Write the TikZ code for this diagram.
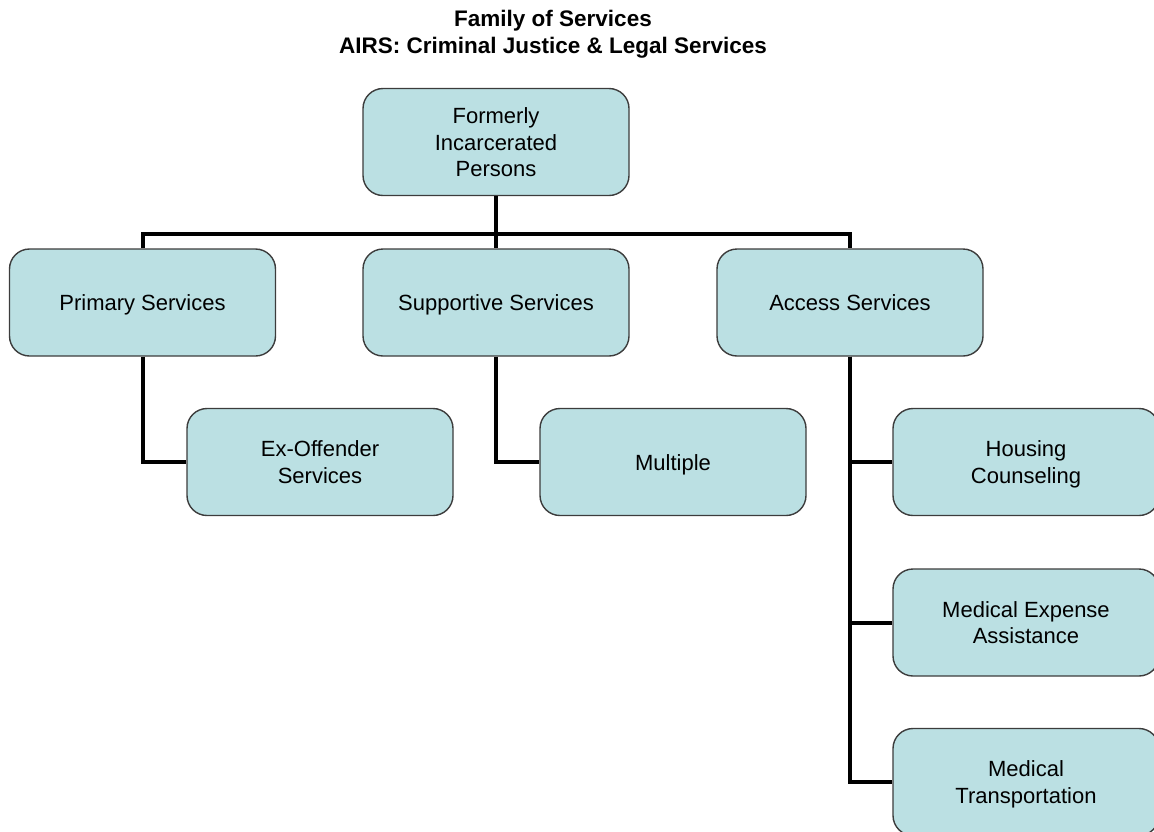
\documentclass[tikz,border=0pt]{standalone}
\usepackage{fontspec}
\setmainfont{Liberation Sans}
\definecolor{boxfill}{RGB}{187,224,227}
\definecolor{boxline}{RGB}{60,60,60}
\newcommand\bxt[1]{\vbox{\kern5.5pt\hbox{\begin{tabular}{@{}c@{}}#1\end{tabular}}}}
\begin{document}
\begin{tikzpicture}[x=1pt,y=-1pt,
  svc/.style={draw=boxline, line width=1.4pt, fill=boxfill, rounded corners=20pt,
    minimum width=266pt, minimum height=107pt, inner sep=2pt,
    font=\fontsize{22}{26.5}\selectfont},
  conn/.style={line width=4pt, black},
  ttl/.style={font=\bfseries\fontsize{22.5}{27}\selectfont, align=center}]
\useasboundingbox (0,0) rectangle (1154,831);
\node[ttl] (title) at (553,34) {Family of Services\\AIRS: Criminal Justice \& Legal Services};
\node[svc] (top) at (496,142) {\bxt{Formerly\\Incarcerated\\Persons}};
\node[svc] (prim) at (142.5,302.5) {\bxt{Primary Services}};
\node[svc] (sup) at (496,302.5) {\bxt{Supportive Services}};
\node[svc] (acc) at (850,302.5) {\bxt{Access Services}};
\node[svc] (exoff) at (320,462) {\bxt{Ex-Offender\\Services}};
\node[svc] (mult) at (673,462) {\bxt{Multiple}};
\node[svc] (house) at (1026,462) {\bxt{Housing\\Counseling}};
\node[svc] (medexp) at (1026,622.5) {\bxt{Medical Expense\\Assistance}};
\node[svc] (medtr) at (1026,782) {\bxt{Medical\\Transportation}};
\coordinate (bar) at (496,234);
\draw[conn] (top.south) -- (sup.north);
\draw[conn] (prim.north) |- (bar) -| (acc.north);
\draw[conn] (prim.south) |- (exoff.west);
\draw[conn] (sup.south) |- (mult.west);
\draw[conn] (acc.south) |- (house.west);
\draw[conn] (acc.south) |- (medexp.west);
\draw[conn] (acc.south) |- (medtr.west);
\end{tikzpicture}
\end{document}
